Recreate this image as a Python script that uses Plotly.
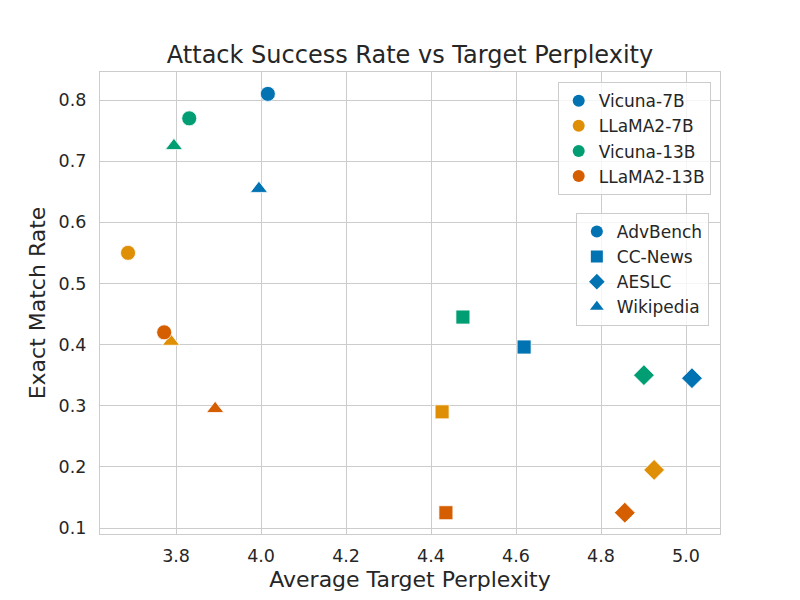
import plotly.graph_objects as go

models = ["Vicuna-7B", "LLaMA2-7B", "Vicuna-13B", "LLaMA2-13B"]
datasets = ["AdvBench", "CC-News", "AESLC", "Wikipedia"]
colors = ["#0173b2", "#de8f05", "#029e73", "#d55e00"]
symbols = ["circle", "square", "diamond", "triangle-up"]

# perplexity[model][dataset], order: AdvBench, CC-News, AESLC, Wikipedia
perplexity = {
    "Vicuna-7B":  [4.016, 4.619, 5.014, 3.995],
    "LLaMA2-7B":  [3.687, 4.426, 4.925, 3.788],
    "Vicuna-13B": [3.831, 4.475, 4.901, 3.795],
    "LLaMA2-13B": [3.772, 4.435, 4.856, 3.892],
}
match_rate = {
    "Vicuna-7B":  [0.81, 0.396, 0.345, 0.655],
    "LLaMA2-7B":  [0.55, 0.29, 0.195, 0.405],
    "Vicuna-13B": [0.77, 0.445, 0.35, 0.725],
    "LLaMA2-13B": [0.42, 0.125, 0.125, 0.295],
}
sizes = {"circle": 15, "square": 14, "diamond": 16, "triangle-up": 15}

fig = go.Figure()
for m, c in zip(models, colors):
    for d, s, x, y in zip(datasets, symbols, perplexity[m], match_rate[m]):
        fig.add_trace(go.Scatter(
            x=[x], y=[y], mode="markers",
            marker=dict(color=c, symbol=s, size=sizes[s], line=dict(width=0.8, color="white")),
            showlegend=False,
        ))

# legend proxies
for m, c in zip(models, colors):
    fig.add_trace(go.Scatter(x=[None], y=[None], mode="markers", name=m,
                             marker=dict(color=c, symbol="circle", size=9),
                             legend="legend"))
for d, s in zip(datasets, symbols):
    fig.add_trace(go.Scatter(x=[None], y=[None], mode="markers", name=d,
                             marker=dict(color=colors[0], symbol=s, size=9),
                             legend="legend2"))

font = "DejaVu Sans"
axis_common = dict(
    showgrid=True, gridcolor="#cccccc", gridwidth=1,
    showline=True, linecolor="#cccccc", linewidth=1.2, mirror=True,
    zeroline=False, ticks="", tickfont=dict(size=17.5, color="#262626"),
)
legend_common = dict(
    bgcolor="rgba(255,255,255,0.8)", bordercolor="#cccccc", borderwidth=1,
    font=dict(size=17, color="#262626", family=font),
    xanchor="right", yanchor="top", itemsizing="constant",
    tracegroupgap=0, itemwidth=30,
)

fig.update_layout(
    width=800, height=600,
    paper_bgcolor="white", plot_bgcolor="white",
    font=dict(family=font, color="#262626"),
    margin=dict(l=92, r=88, t=64, b=74),
    title=dict(text="Attack Success Rate vs Target Perplexity", x=0.5, xref="paper",
               y=0.922, yref="container", yanchor="middle",
               font=dict(size=24, color="#262626")),
    xaxis=dict(range=[3.621, 5.08], tickvals=[3.8, 4.0, 4.2, 4.4, 4.6, 4.8, 5.0],
               ticktext=["3.8", "4.0", "4.2", "4.4", "4.6", "4.8", "5.0"],
               ticklabelstandoff=6,
               title=dict(text="Average Target Perplexity", font=dict(size=22), standoff=6),
               **axis_common),
    yaxis=dict(range=[0.0902, 0.8458], tickvals=[0.1, 0.2, 0.3, 0.4, 0.5, 0.6, 0.7, 0.8],
               ticktext=["0.1", "0.2", "0.3", "0.4", "0.5", "0.6", "0.7", "0.8"],
               ticklabelstandoff=9,
               title=dict(text="Exact Match Rate", font=dict(size=22), standoff=6),
               **axis_common),
    legend=dict(x=0.985, y=0.978, **legend_common),
    legend2=dict(x=0.982, y=0.695, **legend_common),
)

fig.write_html("out.html")
